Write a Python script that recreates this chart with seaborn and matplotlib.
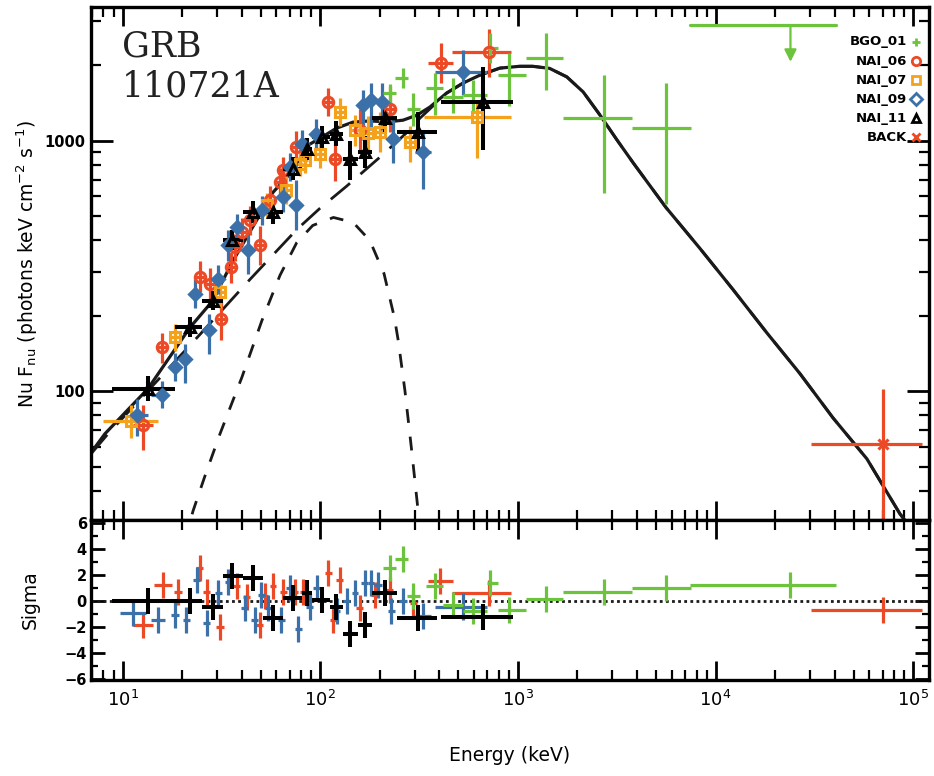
import numpy as np
import pandas as pd
import matplotlib
matplotlib.use("Agg")
import matplotlib.pyplot as plt
import seaborn as sns
from matplotlib.ticker import LogLocator, NullFormatter, MultipleLocator, FixedLocator

# ---------------- data ----------------
# model curves: energy (keV), nuFnu
total_e = [6.92, 8.14, 13.43, 21.9, 28.6, 35.7, 57.6, 72.9, 86.5, 101.8, 120.6, 146, 178, 217, 262,
           308, 358, 435, 527, 642, 810, 1022, 1185, 1446, 1766, 2136, 2602, 3175, 3840, 5600,
           8318, 12220, 18155, 26700, 39200, 58200, 85500, 100000]
total_f = [56.8, 67.6, 102.3, 179.5, 230, 326, 622, 762, 959, 1033, 1122, 1186, 1200, 1189, 1208,
           1265, 1362, 1549, 1699, 1828, 1950, 1983, 1983, 1945, 1799, 1567, 1265, 1005, 813, 542,
           372, 255, 171, 117.5, 78.3, 53.7, 32.4, 27.6]
band_e = [6.92, 8.44, 13.74, 24.6, 44.0, 76.0, 99.5, 135.7, 200, 275, 319, 380, 435, 527, 642, 810,
          1022, 1185, 1446, 1766, 2136, 2602, 3175, 3840, 5600, 8318, 12220, 18155, 26700, 39200,
          58200, 85500, 100000]
band_f = [56.2, 67.6, 102.3, 168.4, 279, 442, 537, 658, 859, 1081, 1230, 1399, 1549, 1699, 1828,
          1950, 1983, 1983, 1945, 1799, 1567, 1265, 1005, 813, 542, 372, 255, 171, 117.5, 78.3,
          53.7, 32.4, 27.6]
bb_e = [20.66, 22.7, 26.1, 31.1, 40.1, 50.6, 62.5, 76.0, 91.6, 116.5, 146.6, 178, 210, 237, 248,
        268, 290, 316, 324]
bb_f = [25.2, 33.2, 45.9, 67.6, 113.5, 191, 290, 392, 459, 494, 472, 400, 295, 197, 159,
        100.5, 57.8, 30.6, 25.2]

# BGO_01
bgo_e = [225, 263, 296, 380, 469, 591, 721, 905, 1384, 2726, 5598]
bgo_elo = [207, 240, 273, 343, 418, 528, 700, 795, 1100, 1687, 3769]
bgo_ehi = [241, 277, 321, 418, 528, 700, 795, 1100, 1687, 3769, 7490]
bgo_f = [1546, 1773, 1345, 1617, 1497, 1522, 2350, 1828, 2132, 1227, 1125]
bgo_flo = [1387, 1620, 1150, 1265, 1290, 1300, 2050, 1375, 1592, 617, 557]
bgo_fhi = [1680, 1950, 1550, 1870, 1780, 1750, 2700, 2250, 2692, 1828, 1700]
bgo_ul_e, bgo_ul_elo, bgo_ul_ehi, bgo_ul_f, bgo_ul_tip = 23900, 7380, 40400, 2911, 2014

# NAI_06
n06_e = [12.7, 15.8, 24.6, 27.6, 31.5, 35.3, 37.0, 40.4, 44.0, 49.5, 55.6, 62.5, 64.4, 75.4, 110,
         118.5, 158.6, 225, 410, 710]
n06_elo = [11.3, 14.8, 23.5, 26.3, 30.0, 33.7, 35.5, 38.6, 42.2, 47.3, 53.0, 60.0, 62.0, 72.0, 104,
           112, 150, 212, 350, 463]
n06_ehi = [14.3, 16.8, 25.8, 29.0, 33.0, 37.0, 38.6, 42.2, 46.0, 51.8, 58.0, 65.0, 67.0, 79.0, 117,
           125, 168, 240, 470, 925]
n06_f = [73.5, 150, 287, 268, 194, 313, 376, 432, 481, 382, 578, 684, 762, 945, 1430, 849, 1101,
         1345, 2036, 2268]
n06_flo = [58, 130, 250, 230, 160, 270, 330, 380, 420, 320, 500, 600, 670, 820, 1250, 690, 900,
           1080, 1700, 1800]
n06_fhi = [88, 170, 330, 310, 235, 360, 425, 490, 550, 455, 660, 780, 860, 1090, 1630, 1040, 1340,
           1650, 2450, 2800]

# NAI_07
n07_e = [11.0, 18.4, 31.1, 54.0, 67.3, 78.9, 83.6, 99.5, 125.7, 149.6, 174, 200, 284, 621]
n07_elo = [7.95, 17.5, 29.5, 51.5, 64, 76, 80.5, 95, 119, 142, 166, 190, 268, 335]
n07_ehi = [15.1, 19.3, 32.7, 56.5, 70.5, 82, 87, 104, 133, 157, 183, 211, 300, 922]
n07_f = [76.2, 164, 248, 552, 634, 810, 836, 889, 1304, 1101, 1069, 1085, 990, 1245]
n07_flo = [65, 145, 215, 490, 560, 720, 740, 780, 1150, 950, 900, 900, 820, 850]
n07_fhi = [88, 185, 285, 620, 720, 910, 940, 1010, 1480, 1270, 1260, 1300, 1150, 1450]

# NAI_09
n09_e = [11.8, 15.8, 18.4, 20.7, 23.2, 27.2, 30.3, 34.1, 37.8, 43.0, 50.5, 64.7, 70.2, 75.4, 80.5,
         95.6, 165, 180, 204, 234, 331, 530]
n09_elo = [10.9, 14.0, 17.5, 19.7, 22.2, 26.0, 29.0, 32.6, 36.2, 41.2, 48.3, 62.0, 67.5, 72.5, 77.5,
           91, 157, 172, 193, 222, 300, 380]
n09_ehi = [13.4, 17.0, 19.3, 21.7, 24.2, 28.5, 31.6, 35.6, 39.5, 45.0, 52.8, 67.5, 73.0, 78.5, 83.5,
           100, 173, 188, 215, 248, 365, 696]
n09_f = [80, 97, 124.5, 134, 245, 175, 281, 382, 452, 365, 527, 596, 785, 552, 975, 1068, 1387,
         1452, 1430, 1020, 902, 1884]
n09_flo = [66, 86, 110, 108, 215, 141, 245, 330, 400, 295, 460, 520, 690, 439, 860, 930, 1005,
           1100, 1100, 813, 640, 1520]
n09_fhi = [93, 110, 142, 155, 280, 204, 320, 440, 510, 427, 600, 680, 890, 695, 1100, 1220, 1592,
           1700, 1700, 1208, 1100, 2300]

# NAI_11
n11_e = [13.5, 21.9, 28.7, 35.6, 45.8, 57.6, 73.0, 85.4, 101.5, 120, 141.2, 168, 212, 313, 662]
n11_elo = [8.8, 18.4, 25.1, 32.3, 40.7, 51.6, 65.1, 80.5, 91, 112, 130, 155, 182, 243, 410]
n11_ehi = [18.4, 25.1, 32.3, 40.7, 51.6, 65.1, 80.5, 91, 112, 130, 155, 182, 243, 390, 940]
n11_f = [102, 180, 230, 400, 519, 519, 774, 931, 1035, 1068, 848, 902, 1227, 1085, 1430]
n11_flo = [91, 165, 210, 365, 470, 465, 700, 840, 930, 950, 695, 780, 1080, 900, 916]
n11_fhi = [115, 197, 252, 440, 575, 580, 860, 1030, 1150, 1200, 1000, 1040, 1390, 1300, 1974]

# BACK
back_e, back_elo, back_ehi = 70150, 30350, 110600
back_f, back_flo, back_fhi = 61.5, 20, 102

# residuals (sigma)
res_bgo = [2.5, 3.2, 0.33, 1.1, -0.3, -0.8, 1.35, -0.7, 0.15, 0.67, 0.98]
res_bgo_ul = 1.23
res_n11 = [0.0, 0.0, -0.5, 1.87, 1.75, -1.33, 0.2, 0.6, 0.08, -0.5, -2.6, -1.85, 0.6, -1.33, -1.25]
res06_e = [12.7, 16.1, 19.1, 24.6, 26.6, 31.1, 37.7, 42.4, 49.5, 52.5, 57.7, 65.1, 74.4, 82.0, 110,
           116, 125.7, 158.6, 188.9, 225, 296, 403, 710]
res06_elo = [11.3, 14.4, 18.3, 23.6, 25.5, 29.8, 36.2, 40.7, 47.5, 50.4, 55.4, 62.5, 71.4, 78.7,
             105.6, 111.4, 120.7, 152.3, 181.3, 216, 284, 350, 463]
res06_ehi = [14.3, 17.7, 19.9, 25.6, 27.7, 32.4, 39.2, 44.1, 51.5, 54.6, 60, 67.7, 77.4, 85.3,
             114.4, 120.6, 130.7, 164.9, 196.4, 234, 308, 470, 925]
res06_r = [-1.85, 1.23, 0.7, 2.5, 0.7, -2.0, 1.1, 0.3, -1.85, 0.33, 1.1, 0.7, 0.7, 0.7, 2.1, -1.5,
           1.6, -0.55, 0.45, 0.85, -0.2, 1.5, 0.6]
res09_e = [11.3, 15.1, 18.4, 21.0, 23.7, 26.6, 30.5, 34.2, 41.5, 46.7, 50.4, 54.6, 63.6, 70.2, 77.3,
           88.6, 95.8, 121, 136, 150, 168, 181, 196, 229, 262, 331, 530]
res09_elo = [9.7, 14.0, 17.6, 20.1, 22.7, 25.5, 29.2, 32.8, 39.8, 44.8, 48.4, 52.4, 61.0, 67.4, 74.2,
             85.0, 92.0, 116, 130.5, 144, 161, 174, 188, 220, 251, 300, 380]
res09_ehi = [13.2, 16.3, 19.2, 21.9, 24.7, 27.7, 31.8, 35.6, 43.2, 48.6, 52.4, 56.8, 66.2, 73.0, 80.4,
             92.2, 99.6, 126, 141.5, 156, 175, 188, 204, 238, 273, 365, 696]
res09_r = [-0.95, -1.45, -1.1, -1.45, 1.6, -1.7, 0.6, 1.4, -0.55, -1.45, 0.45, -0.55, -1.45, 1.0,
           -2.2, -0.45, 1.0, -0.8, 0.0, 0.6, 1.35, 1.35, 1.2, -0.8, 0.0, -1.2, -0.45]
res_back = -0.7

legend_labels = ["BGO_01", "NAI_06", "NAI_07", "NAI_09", "NAI_11", "BACK"]

# ---------------- style ----------------
C_GREEN = "#6cc33c"
C_RED = "#ec4a26"
C_ORANGE = "#f4a11c"
C_BLUE = "#3c70a8"
C_BLACK = "#000000"

sns.set_theme(style="ticks")
plt.rcParams["font.family"] = ["DejaVu Sans"]
plt.rcParams["axes.linewidth"] = 2.4
plt.rcParams["mathtext.default"] = "regular"
for k in ["text.color", "axes.labelcolor", "xtick.color", "ytick.color", "axes.edgecolor"]:
    plt.rcParams[k] = "black"

fig = plt.figure(figsize=(9.34, 7.76), dpi=100)
W, H = 934, 776
L, R = 91, 929
T1, B1, B2 = 7, 520, 680
ax = fig.add_axes([L / W, 1 - B1 / H, (R - L) / W, (B1 - T1) / H])
ax2 = fig.add_axes([L / W, 1 - B2 / H, (R - L) / W, (B2 - B1) / H], sharex=ax)

XLIM = (6.92, 1.2e5)
ax.set_xscale("log")
ax.set_yscale("log")
ax.set_xlim(*XLIM)
ax.set_ylim(30.6, 3420)
ax2.set_ylim(-6.1, 6.2)


def errs(v, lo, hi):
    v = np.asarray(v, float)
    return [v - np.asarray(lo, float), np.asarray(hi, float) - v]


EW = 2.3
# model curves
sns.lineplot(x=bb_e, y=bb_f, ax=ax, color="k", lw=2.0, sort=False, estimator=None,
             linestyle=(0, (5, 5)))
sns.lineplot(x=band_e, y=band_f, ax=ax, color="k", lw=2.0, sort=False, estimator=None,
             linestyle=(0, (9, 5)))
sns.lineplot(x=total_e, y=total_f, ax=ax, color="k", lw=2.3, sort=False, estimator=None)

# data points
sets = [
    (n06_e, n06_elo, n06_ehi, n06_f, n06_flo, n06_fhi, C_RED, "o", 7.5, "none"),
    (n07_e, n07_elo, n07_ehi, n07_f, n07_flo, n07_fhi, C_ORANGE, "s", 7, "none"),
    (n09_e, n09_elo, n09_ehi, n09_f, n09_flo, n09_fhi, C_BLUE, "D", 6, C_BLUE),
    (bgo_e, bgo_elo, bgo_ehi, bgo_f, bgo_flo, bgo_fhi, C_GREEN, None, 0, None),
    (n11_e, n11_elo, n11_ehi, n11_f, n11_flo, n11_fhi, C_BLACK, "^", 7.5, "none"),
]
for e, elo, ehi, f, flo, fhi, c, m, ms, fc in sets:
    ax.errorbar(e, f, xerr=errs(e, elo, ehi), yerr=errs(f, flo, fhi), fmt="none",
                ecolor=c, elinewidth=EW + (0.6 if c == C_BLACK else 0), capsize=0, zorder=3)
    if m is not None:
        ax.plot(e, f, linestyle="none", marker=m, ms=ms, mfc=fc, mec=c, mew=2.2, zorder=4)

# BGO upper limit
ax.plot([bgo_ul_elo, bgo_ul_ehi], [bgo_ul_f, bgo_ul_f], color=C_GREEN, lw=EW)
ax.annotate("", xy=(bgo_ul_e, bgo_ul_tip), xytext=(bgo_ul_e, bgo_ul_f),
            arrowprops=dict(arrowstyle="-|>", color=C_GREEN, lw=1.6, mutation_scale=18))
# BACK
ax.errorbar([back_e], [back_f], xerr=errs([back_e], [back_elo], [back_ehi]),
            yerr=errs([back_f], [back_flo], [back_fhi]), fmt="none", ecolor=C_RED,
            elinewidth=EW, capsize=0)
ax.plot([back_e], [back_f], marker="x", ms=7, mew=2.2, color=C_RED, linestyle="none")

# title text
ax.text(0.037, 0.957, "GRB\n110721A", transform=ax.transAxes, ha="left", va="top",
        family="DejaVu Serif", fontsize=25, color="#222222", linespacing=1.25)

# legend
leg_y = [0.932, 0.894, 0.857, 0.820, 0.783, 0.746]
leg_m = [("+", C_GREEN, C_GREEN), ("o", C_RED, "none"), ("s", C_ORANGE, "none"),
         ("D", C_BLUE, "none"), ("^", C_BLACK, "none"), ("x", C_RED, C_RED)]
for lab, yy, (m, c, fc) in zip(legend_labels, leg_y, leg_m):
    ax.text(0.974, yy, lab, transform=ax.transAxes, ha="right", va="center", fontsize=9.5,
            family=["Liberation Sans Narrow", "DejaVu Sans"], fontweight="bold")
    ax.plot([0.9845], [yy], transform=ax.transAxes, marker=m, ms=6, mec=c, mfc=fc,
            mew=2.0, linestyle="none", clip_on=False)

# residuals
def rplot(e, elo, ehi, r, c, lw=EW):
    ax2.errorbar(e, r, xerr=errs(e, elo, ehi), yerr=[np.ones(len(r)), np.ones(len(r))],
                 fmt="none", ecolor=c, elinewidth=lw, capsize=0)

ax2.axhline(0, color="k", lw=2.0, linestyle=(0, (1, 1.2)), zorder=1)
rplot(res06_e, res06_elo, res06_ehi, res06_r, C_RED)
rplot(res09_e, res09_elo, res09_ehi, res09_r, C_BLUE)
rplot(bgo_e, bgo_elo, bgo_ehi, res_bgo, C_GREEN)
rplot([bgo_ul_e], [bgo_ul_elo], [bgo_ul_ehi], [res_bgo_ul], C_GREEN)
rplot(n11_e, n11_elo, n11_ehi, res_n11, C_BLACK, lw=EW + 0.6)
rplot([back_e], [back_elo], [back_ehi], [res_back], C_RED)

# ticks / axes
for a in (ax, ax2):
    a.xaxis.set_major_locator(LogLocator(base=10, numticks=10))
    a.xaxis.set_minor_locator(LogLocator(base=10, subs=np.arange(2, 10), numticks=20))
    a.tick_params(which="major", direction="in", length=14, width=2.0, top=True, right=True,
                  labelsize=13, pad=7, colors="black")
    a.tick_params(which="minor", direction="in", length=7, width=1.6, top=True, right=True,
                  colors="black")
    for s in a.spines.values():
        s.set_color("black")
ax.yaxis.set_major_locator(FixedLocator([100, 1000]))
ax.yaxis.set_minor_locator(LogLocator(base=10, subs=np.arange(2, 10), numticks=20))
ax.yaxis.set_minor_formatter(NullFormatter())
ax.yaxis.set_major_formatter(matplotlib.ticker.FuncFormatter(lambda v, p: f"{int(round(v))}"))
ax.tick_params(axis="y", which="major", labelsize=10.5, length=16, pad=4)
plt.setp(ax.get_xticklabels(), visible=False)
ax2.yaxis.set_major_locator(MultipleLocator(2))
ax2.yaxis.set_minor_locator(MultipleLocator(1))
ax2.tick_params(axis="y", which="major", labelsize=10.5, length=10, pad=3)
ax2.tick_params(axis="y", which="minor", length=5)
ax2.set_xlim(*XLIM)

for lab in ax.get_yticklabels() + ax2.get_yticklabels():
    lab.set_fontweight("bold")

ax.set_ylabel(r"Nu F$_{nu}$ (photons keV cm$^{-2}$ s$^{-1}$)", fontsize=13.5, color="black")
ax.yaxis.set_label_coords(-0.061, 0.5)
ax2.set_ylabel("Sigma", fontsize=13.5, color="black")
ax2.yaxis.set_label_coords(-0.061, 0.5)
ax2.set_xlabel("Energy (keV)", fontsize=13.5, color="black")
ax2.xaxis.set_label_coords(0.5, -0.41)

fig.savefig("out.png", dpi=100)
